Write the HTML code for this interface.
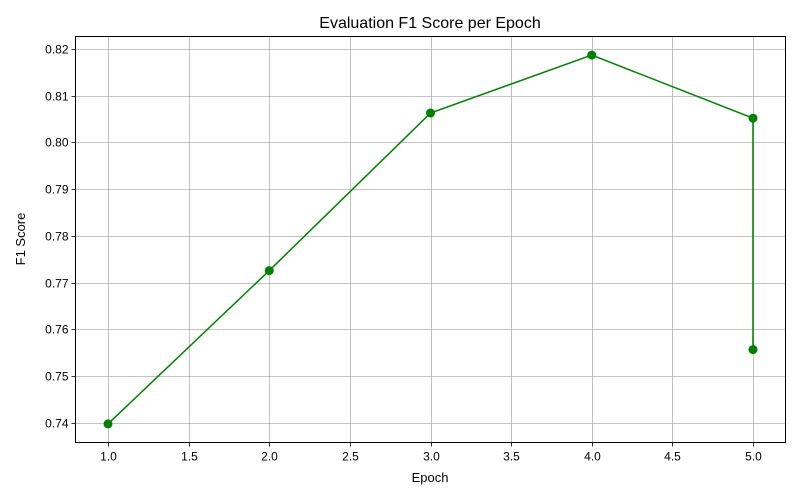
<!DOCTYPE html>
<html><head><meta charset="utf-8"><style>
body{margin:0;background:#fff;}
svg{display:block;font-family:"Liberation Sans","DejaVu Sans",sans-serif;}
</style></head><body>
<svg id="chart" width="800" height="500" viewBox="0 0 800 500" xmlns="http://www.w3.org/2000/svg">
<rect width="800" height="500" fill="#fff"/>
<g id="grid"></g>
<rect x="75.5" y="36.5" width="710" height="406" fill="none" stroke="#000" stroke-width="1"/>
<g id="ticks"></g>
<polyline id="line" fill="none" stroke="#008000" stroke-width="1.5"/>
<g id="points"></g>
<text x="430" y="28" text-anchor="middle" font-size="16">Evaluation F1 Score per Epoch</text>
<text x="430" y="482" text-anchor="middle" font-size="13">Epoch</text>
<text x="25" y="239" text-anchor="middle" font-size="13" transform="rotate(-90 25 239)">F1 Score</text>
</svg>
<script>
const epochs = [1, 2, 3, 4, 5, 5];
const f1Scores = [0.7398, 0.7726, 0.8063, 0.8187, 0.8052, 0.7557];
const xTicks = [1.0, 1.5, 2.0, 2.5, 3.0, 3.5, 4.0, 4.5, 5.0];
const yTicks = [0.74, 0.75, 0.76, 0.77, 0.78, 0.79, 0.80, 0.81, 0.82];
const NS = "http://www.w3.org/2000/svg";
const L = 75.5, R = 785.5, T = 36.5, B = 442.5;
function xs(v){ return 108 + (v - 1) * 161.25; }
function ys(v){ return 423 - (v - 0.74) * 4675; }
const grid = document.getElementById('grid'), ticks = document.getElementById('ticks');
function mk(tag, attrs, parent){ const e = document.createElementNS(NS, tag); for (const k in attrs) e.setAttribute(k, attrs[k]); parent.appendChild(e); return e; }
xTicks.forEach(t => {
  const x = Math.round(xs(t)) + 0.5;
  const g = mk('line', {x1:x, x2:x, y1:T, y2:B, stroke:'#b0b0b0', 'stroke-width':0.8}, grid);
  
  
  mk('line', {x1:x, x2:x, y1:B, y2:B+4, stroke:'#000', 'stroke-width':0.8}, ticks);
  const tx = mk('text', {x:x, y:B+18, 'text-anchor':'middle', 'font-size':12}, ticks);
  tx.textContent = t.toFixed(1);
  
  
});
yTicks.forEach(t => {
  const y = Math.round(ys(t)) + 0.5;
  const g = mk('line', {x1:L, x2:R, y1:y, y2:y, stroke:'#b0b0b0', 'stroke-width':0.8}, grid);
  
  
  mk('line', {x1:L-4, x2:L, y1:y, y2:y, stroke:'#000', 'stroke-width':0.8}, ticks);
  const tx = mk('text', {x:L-7, y:y+4, 'text-anchor':'end', 'font-size':12}, ticks);
  tx.textContent = t.toFixed(2);
  
  
});
document.getElementById('line').setAttribute('points', epochs.map((e,i)=>xs(e)+','+ys(f1Scores[i])).join(' '));
const pts = document.getElementById('points');
epochs.forEach((e,i) => {
  const c = mk('circle', {cx:xs(e), cy:ys(f1Scores[i]), r:4.5, fill:'#008000'}, pts);
  
  
});
</script>
</body></html>
